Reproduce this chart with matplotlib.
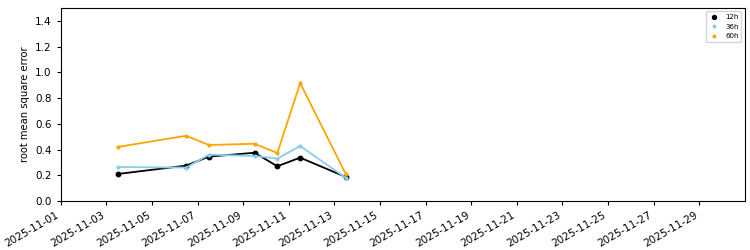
import numpy as np
import pandas as pd
import matplotlib
matplotlib.use("Agg")
import matplotlib.pyplot as plt
import matplotlib.dates as mdates

# Forecast error per run date
dates = pd.to_datetime([
    "2025-11-03 12:00", "2025-11-06 12:00", "2025-11-07 12:00",
    "2025-11-09 12:00", "2025-11-10 12:00", "2025-11-11 12:00",
    "2025-11-13 12:00",
])
rmse_12h = [0.21, 0.275, 0.345, 0.375, 0.27, 0.337, 0.187]
rmse_36h = [0.264, 0.26, 0.36, 0.35, 0.33, 0.427, 0.18]
rmse_60h = [0.42, 0.507, 0.435, 0.445, 0.373, 0.916, 0.21]

series = [("12h", rmse_12h, "black", 3.2), ("36h", rmse_36h, "skyblue", 2.0), ("60h", rmse_60h, "orange", 2.0)]

fig = plt.figure(figsize=(7.5, 2.5), dpi=100)
ax = fig.add_axes([0.081, 0.196, 0.912, 0.772])

for label, vals, color, ms in series:
    ax.plot(dates, vals, color=color, linewidth=1.3)
    ax.plot(dates, vals, linestyle="none", marker="o", markersize=ms, color=color, label=label)

ax.set_xlim(pd.Timestamp("2025-11-01"), pd.Timestamp("2025-12-01"))
ax.set_ylim(0, 1.5)
ax.set_yticks(np.arange(0, 1.41, 0.2))
ax.set_xticks(pd.date_range("2025-11-01", "2025-11-29", freq="2D"))
ax.xaxis.set_major_formatter(mdates.DateFormatter("%Y-%m-%d"))
plt.setp(ax.get_xticklabels(), rotation=30, ha="right")
ax.tick_params(labelsize=7.5, length=3)
ax.set_ylabel("root mean square error", fontsize=7.2)

ax.legend(loc="upper right", fontsize=5, markerscale=0.9, handlelength=1.5)

fig.savefig("out.png", dpi=100)
